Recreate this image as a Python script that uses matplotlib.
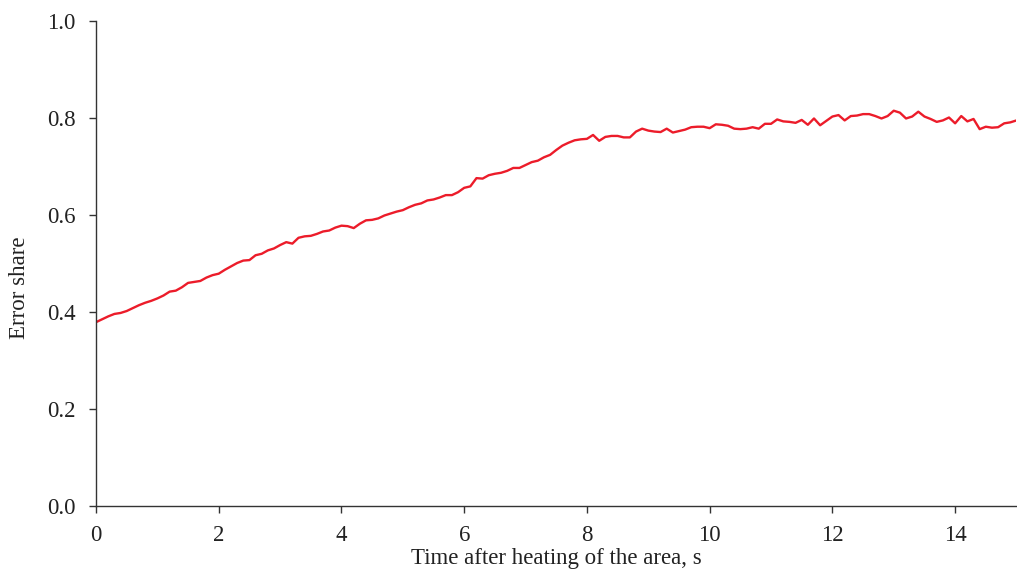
import numpy as np
import matplotlib
matplotlib.use("Agg")
import matplotlib.pyplot as plt

plt.rcParams["font.family"] = ["Liberation Serif", "DejaVu Serif"]

# time axis, s (sampled every 0.1 s)
time_s = np.round(np.arange(0, 15.0001, 0.1), 1)

# share of erroneous readings over time
error_share = [
    0.379, 0.385, 0.391, 0.396, 0.398, 0.402, 0.408, 0.414, 0.419, 0.423,
    0.428, 0.434, 0.442, 0.444, 0.451, 0.460, 0.462, 0.464, 0.471, 0.476,
    0.479, 0.487, 0.494, 0.501, 0.506, 0.507, 0.517, 0.520, 0.527, 0.531,
    0.538, 0.544, 0.541, 0.553, 0.556, 0.557, 0.561, 0.566, 0.568, 0.574,
    0.578, 0.577, 0.573, 0.582, 0.589, 0.590, 0.593, 0.599, 0.603, 0.607,
    0.610, 0.616, 0.621, 0.624, 0.630, 0.632, 0.636, 0.641, 0.641, 0.647,
    0.656, 0.659, 0.676, 0.675, 0.682, 0.685, 0.687, 0.691, 0.697, 0.697,
    0.703, 0.709, 0.712, 0.719, 0.724, 0.734, 0.743, 0.749, 0.754, 0.756,
    0.757, 0.765, 0.753, 0.761, 0.763, 0.763, 0.760, 0.760, 0.772, 0.778,
    0.774, 0.772, 0.771, 0.778, 0.770, 0.773, 0.776, 0.781, 0.782, 0.782,
    0.779, 0.787, 0.786, 0.784, 0.778, 0.777, 0.778, 0.781, 0.778, 0.788,
    0.788, 0.797, 0.793, 0.792, 0.790, 0.796, 0.786, 0.799, 0.785, 0.794,
    0.803, 0.806, 0.795, 0.804, 0.805, 0.808, 0.808, 0.804, 0.799, 0.804,
    0.815, 0.811, 0.799, 0.803, 0.813, 0.803, 0.798, 0.792, 0.795, 0.801,
    0.789, 0.804, 0.793, 0.798, 0.777, 0.782, 0.780, 0.781, 0.789, 0.791,
    0.795,
]

x_ticks = [0, 2, 4, 6, 8, 10, 12, 14]
y_ticks = [0.0, 0.2, 0.4, 0.6, 0.8, 1.0]

fig = plt.figure(figsize=(10.17, 5.75), dpi=100)
ax = fig.add_axes([0.0944, 0.12, 0.9051, 0.8435])

ax.plot(time_s, error_share, color="#ec1c2a", linewidth=1.7)

ax.set_xlim(0, 15)
ax.set_ylim(0, 1.0)
ax.set_xticks(x_ticks)
ax.set_yticks(y_ticks)
ax.set_yticklabels([f"{v:.1f}" for v in y_ticks])

for side in ("top", "right"):
    ax.spines[side].set_visible(False)
for side in ("left", "bottom"):
    ax.spines[side].set_color("#333333")
    ax.spines[side].set_linewidth(1.0)

ax.tick_params(axis="both", direction="out", length=5, width=1.0,
               color="#333333", labelsize=16.5, labelcolor="#222222", pad=8.5)
ax.tick_params(axis="y", pad=9.5)

ax.set_xlabel("Time after heating of the area, s", fontsize=16.5,
              color="#222222", va="center")
ax.xaxis.set_label_coords(0.5, -0.108)
ax.set_ylabel("Error share", fontsize=16.5, color="#222222", va="center")
ax.yaxis.set_label_coords(-0.083, 0.45)

fig.savefig("out.png", dpi=100)
